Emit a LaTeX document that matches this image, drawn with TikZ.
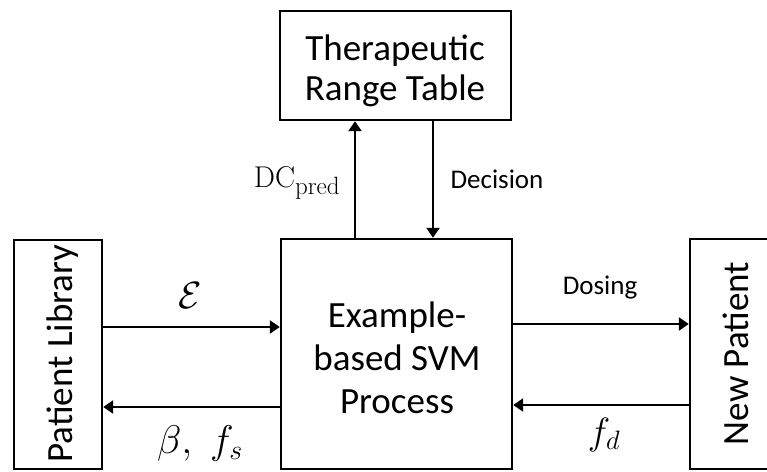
\RequirePackage{fix-cm}
\documentclass[tikz,border=0pt]{standalone}
\usepackage[no-math]{fontspec}
\setmainfont{Carlito}
\usetikzlibrary{arrows.meta}
\begin{document}
\begin{tikzpicture}[x=1pt,y=-1pt,
  every node/.style={inner sep=0pt, outer sep=0pt},
  box/.style={draw, line width=2.4pt, rectangle, outer sep=1.2pt},
  arr/.style={line width=2.4pt, -{Triangle[length=10pt,width=13pt]}},
  maintxt/.style={font=\fontsize{37}{40}\selectfont},
  smalltxt/.style={font=\fontsize{27}{30}\selectfont},
  mathbig/.style={font=\fontsize{38}{42}\selectfont}]
\useasboundingbox (0,0) rectangle (767,471);
% boxes
\node[box, minimum width=231pt, minimum height=109pt] (trt) at (395.5,65.5) {};
\node[box, minimum width=231pt, minimum height=230pt] (svm) at (396.5,354) {};
\node[box, minimum width=88pt, minimum height=229pt] (pl) at (58,354.5) {};
\node[box, minimum width=100pt, minimum height=230pt] (np) at (740,354) {};
% box texts
\node[maintxt, align=center, anchor=base] (trttxt) at (395,100) {Therapeutic\\Range Table};
\node[font=\fontsize{37}{43}\selectfont, align=center, anchor=base] (svmtxt) at (397,413) {Example-\\based SVM\\Process};
\node[maintxt, rotate=90, anchor=base] (pltxt) at (72,353.5) {Patient Library};
\node[maintxt, rotate=90, anchor=base] (nptxt) at (748.5,353.5) {New Patient};
% connectors
\draw[arr] ([xshift=-41.5pt]svm.north) -- ([xshift=-41.5pt]svm.north |- trt.south);
\draw[arr] ([xshift=36.5pt]svm.north |- trt.south) -- ([xshift=36.5pt]svm.north);
\draw[arr] ([yshift=27pt]svm.west -| pl.east) -- ([yshift=27pt]svm.west);
\draw[arr] ([yshift=-53pt]svm.west) -- ([yshift=-53pt]svm.west -| pl.east);
\draw[arr] ([yshift=30pt]svm.east) -- ([yshift=30pt]svm.east -| np.west);
\draw[arr] ([yshift=-51pt]svm.east -| np.west) -- ([yshift=-51pt]svm.east);
% labels
\node[font=\fontsize{30}{34}\selectfont, anchor=base] (dc) at (297,187) {$\mathrm{DC}_{\mbox{\fontsize{25}{25}\usefont{OT1}{cmr}{m}{n}pred}}$};
\node[smalltxt, anchor=base] (dec) at (497,188) {Decision};
\node[mathbig, anchor=base] (eps) at (190,308) {$\mathcal{E}$};
\node[font=\fontsize{40}{44}\selectfont, anchor=base] (bfs) at (200,453) {$\beta,\;f_s$};
\node[smalltxt, anchor=base] (dos) at (600,294) {Dosing};
\node[mathbig, anchor=base] (fd) at (604,444) {$f_d$};
\end{tikzpicture}
\end{document}
